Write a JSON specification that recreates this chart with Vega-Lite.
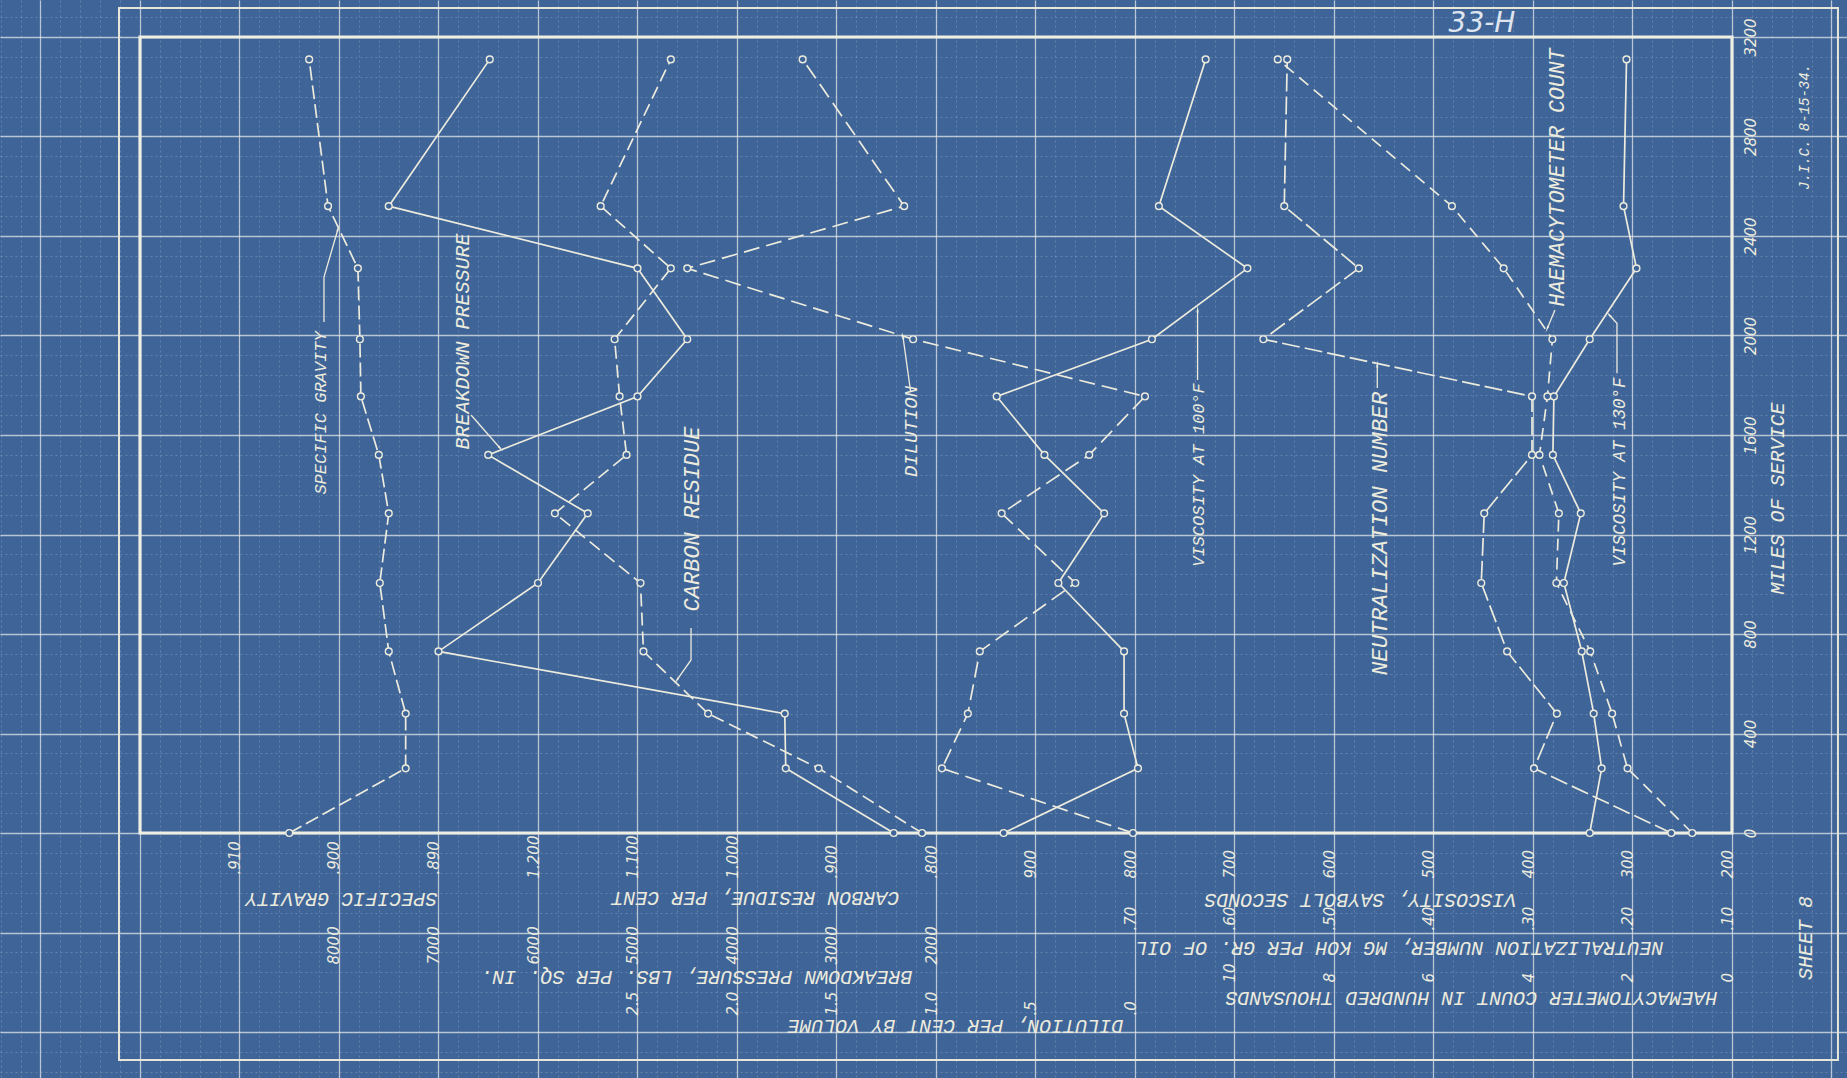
{
  "$schema": "https://vega.github.io/schema/vega-lite/v6.json",
  "width": 1847,
  "height": 1078,
  "autosize": {"type": "none"},
  "padding": 0,
  "background": "#3e6498",
  "config": {"view": {"stroke": null}},
  "datasets": {
    "oil": [
      {"miles": 0, "sg": 0.9050, "bp": 2425, "cr": 0.814, "dil": 0.01, "v100": 932, "neut": 0.161, "haem": 0.80, "v130": 343},
      {"miles": 260, "sg": 0.8933, "bp": 3510, "cr": 0.918, "dil": 0.97, "v100": 797, "neut": 0.299, "haem": 2.10, "v130": 331},
      {"miles": 480, "sg": 0.8933, "bp": 3520, "cr": 1.029, "dil": 0.84, "v100": 811, "neut": 0.276, "haem": 2.41, "v130": 339},
      {"miles": 730, "sg": 0.8950, "bp": 7000, "cr": 1.094, "dil": 0.78, "v100": 811, "neut": 0.326, "haem": 2.85, "v130": 351},
      {"miles": 1005, "sg": 0.8959, "bp": 6000, "cr": 1.097, "dil": 0.30, "v100": 877, "neut": 0.352, "haem": 3.53, "v130": 369},
      {"miles": 1285, "sg": 0.8950, "bp": 5500, "cr": 1.183, "dil": 0.67, "v100": 831, "neut": 0.349, "haem": 3.48, "v130": 352},
      {"miles": 1520, "sg": 0.8960, "bp": 6500, "cr": 1.111, "dil": 0.23, "v100": 891, "neut": 0.301, "haem": 3.87, "v130": 380},
      {"miles": 1755, "sg": 0.8978, "bp": 5000, "cr": 1.118, "dil": -0.05, "v100": 939, "neut": 0.301, "haem": 3.71, "v130": 379},
      {"miles": 1985, "sg": 0.8979, "bp": 4500, "cr": 1.123, "dil": 1.115, "v100": 783, "neut": 0.571, "haem": 3.61, "v130": 343},
      {"miles": 2270, "sg": 0.8981, "bp": 5000, "cr": 1.0665, "dil": 2.25, "v100": 687, "neut": 0.475, "haem": 4.59, "v130": 296},
      {"miles": 2520, "sg": 0.9011, "bp": 7500, "cr": 1.137, "dil": 1.16, "v100": 776, "neut": 0.550, "haem": 5.63, "v130": 309},
      {"miles": 3110, "sg": 0.9030, "bp": 6485, "cr": 1.0665, "dil": 1.67, "v100": 729, "neut": 0.547, "haem": 9.13, "v130": 306}
    ],
    "leaders": [
      {"g": "sg", "i": 0, "d": 14.151, "m": 2054.3},
      {"g": "sg", "i": 1, "d": 14.151, "m": 2235.2},
      {"g": "sg", "i": 2, "d": 14.010, "m": 2428.1},
      {"g": "bp", "i": 0, "d": 12.673, "m": 1680.4},
      {"g": "bp", "i": 1, "d": 12.382, "m": 1547.7},
      {"g": "cr", "i": 0, "d": 10.462, "m": 824.1},
      {"g": "cr", "i": 1, "d": 10.462, "m": 695.5},
      {"g": "cr", "i": 2, "d": 10.603, "m": 615.1},
      {"g": "dil", "i": 0, "d": 8.255, "m": 1774.1},
      {"g": "dil", "i": 1, "d": 8.332, "m": 1995.2},
      {"g": "v100", "i": 0, "d": 5.371, "m": 1821.1},
      {"g": "v100", "i": 1, "d": 5.371, "m": 2102.5},
      {"g": "neut", "i": 0, "d": 3.565, "m": 1788.9},
      {"g": "neut", "i": 1, "d": 3.565, "m": 1881.4},
      {"g": "haem", "i": 0, "d": 1.779, "m": 2102.5},
      {"g": "haem", "i": 1, "d": 1.856, "m": 2028.9},
      {"g": "v130", "i": 0, "d": 1.156, "m": 1848.2},
      {"g": "v130", "i": 1, "d": 1.156, "m": 2049.2},
      {"g": "v130", "i": 2, "d": 1.233, "m": 2082.6}
    ],
    "arrows": [
      {"g": "sg", "d": 14.010, "m": 2428.1, "dir": 16},
      {"g": "bp", "d": 12.382, "m": 1547.7, "dir": 138},
      {"g": "cr", "d": 10.603, "m": 615.1, "dir": 215},
      {"g": "dil", "d": 8.332, "m": 1995.2, "dir": 352},
      {"g": "v100", "d": 5.371, "m": 2102.5, "dir": 0},
      {"g": "neut", "d": 3.565, "m": 1881.4, "dir": 0},
      {"g": "haem", "d": 1.856, "m": 2028.9, "dir": 204},
      {"g": "v130", "d": 1.233, "m": 2082.6, "dir": 315}
    ]
  },
  "data": {"name": "oil"},
  "resolve": {"scale": {"x": "independent", "y": "independent"}, "axis": {"x": "independent", "y": "independent"}},
  "layer": [
    {
      "data": {"values": [{"f0": 0, "f1": 80, "q0": 0, "q1": 40}]},
      "mark": {"type": "rect", "opacity": 0},
      "encoding": {
        "x": {"field": "f0", "type": "quantitative", "scale": {"domain": [-5.778895, 87.035175], "reverse": true, "nice": false, "zero": false},
          "axis": {"grid": true, "tickCount": 93, "labels": false, "ticks": false, "domain": false, "title": null, "gridColor": "#e6eaf0", "gridOpacity": 0.22, "gridDash": [2, 3], "gridWidth": 1, "zindex": 0}},
        "x2": {"field": "f1"},
        "y": {"field": "q0", "type": "quantitative", "scale": {"domain": [-12.3115, 41.85925], "nice": false, "zero": false},
          "axis": {"grid": true, "tickCount": 54, "labels": false, "ticks": false, "domain": false, "title": null, "gridColor": "#e6eaf0", "gridOpacity": 0.22, "gridDash": [2, 3], "gridWidth": 1, "zindex": 0}},
        "y2": {"field": "q1"}
      }
    },
    {
      "encoding": {
        "x": {"field": "x0", "type": "quantitative", "scale": {"domain": [-1.155779, 17.407035], "reverse": true, "nice": false, "zero": false},
          "axis": {"grid": true, "values": [-1, 0, 1, 2, 3, 4, 5, 6, 7, 8, 9, 10, 11, 12, 13, 14, 15, 16, 17], "labels": false, "ticks": false, "domain": false, "title": null, "gridColor": "#e3e6e8", "gridOpacity": 0.72, "gridWidth": 1.3, "zindex": 0}},
        "x2": {"field": "x1"},
        "y": {"field": "y0", "type": "quantitative", "scale": {"domain": [-984.92, 3348.74], "nice": false, "zero": false},
          "axis": {"orient": "right", "offset": -92, "grid": true, "values": [-800, -400, 0, 400, 800, 1200, 1600, 2000, 2400, 2800, 3200],
            "labelExpr": "datum.value >= 0 ? datum.label : ''", "format": "d",
            "gridColor": "#e3e6e8", "gridOpacity": 0.72, "gridWidth": 1.3, "zindex": 0,
            "ticks": false, "tickSize": 0, "domain": false, "labelAngle": 270, "labelAlign": "center", "labelBaseline": "alphabetic", "labelPadding": 0,
            "labelFont": "DejaVu Sans", "labelFontSize": 15, "labelFontStyle": "italic", "labelColor": "#ecebdd", "labelOverlap": false, "labelFlush": false, "labelBound": false,
            "title": "MILES OF SERVICE", "titleAngle": 270, "titleX": 22, "titleY": 498, "titleAlign": "center", "titleBaseline": "middle",
            "titleFont": "Liberation Mono", "titleFontSize": 20, "titleFontStyle": "italic", "titleFontWeight": "normal", "titleColor": "#ecebdd"}},
        "y2": {"field": "y1"}
      },
      "layer": [
        {"data": {"values": [{"x0": 0, "x1": 16, "y0": 0, "y1": 3200}]}, "mark": {"type": "rect", "fillOpacity": 0, "stroke": "#efeee2", "strokeWidth": 3.2}},
        {"data": {"values": [{"x0": -1.065, "x1": 16.211, "y0": -912.6, "y1": 3316.6}]}, "mark": {"type": "rect", "fillOpacity": 0, "stroke": "#e6e6da", "strokeWidth": 2}}
      ]
    },
    {
      "encoding": {
        "x": {"field": "sg", "type": "quantitative", "scale": {"domain": [0.74844221, 0.93407035], "reverse": true, "nice": false, "zero": false},
          "axis": {"orient": "bottom", "offset": -204, "values": [0.89, 0.9, 0.91], "labelExpr": "slice(format(datum.value, '.3f'), 1)",
            "grid": false, "domain": false, "ticks": false, "tickSize": 0, "labelAngle": 270, "labelAlign": "left", "labelBaseline": "alphabetic", "labelPadding": 0,
            "labelFont": "DejaVu Sans", "labelFontSize": 15, "labelFontStyle": "italic", "labelColor": "#ecebdd", "labelOverlap": false, "labelFlush": false, "labelBound": false,
            "title": "SPECIFIC GRAVITY", "titleAngle": 180, "titleX": 341, "titleY": 24, "titleAlign": "center", "titleBaseline": "middle",
            "titleFont": "Liberation Mono", "titleFontSize": 20, "titleFontStyle": "italic", "titleFontWeight": "normal", "titleColor": "#ecebdd"}},
        "y": {"field": "miles", "type": "quantitative", "scale": {"domain": [-984.92, 3348.74], "nice": false, "zero": false}, "axis": null},
        "order": {"field": "miles"}
      },
      "layer": [
        {"mark": {"type": "line", "color": "#ecebdd", "strokeWidth": 1.7, "strokeDash": [14, 5]}},
        {"mark": {"type": "point", "shape": "circle", "filled": true, "fill": "#3e6498", "stroke": "#ecebdd", "strokeWidth": 1.4, "size": 46, "opacity": 1}}
      ]
    },
    {
      "encoding": {
        "x": {"field": "bp", "type": "quantitative", "scale": {"domain": [-7155.779, 11407.035], "reverse": true, "nice": false, "zero": false},
          "axis": {"orient": "bottom", "offset": -114, "values": [2000, 3000, 4000, 5000, 6000, 7000, 8000], "format": "d",
            "grid": false, "domain": false, "ticks": false, "tickSize": 0, "labelAngle": 270, "labelAlign": "left", "labelBaseline": "alphabetic", "labelPadding": 0,
            "labelFont": "DejaVu Sans", "labelFontSize": 15, "labelFontStyle": "italic", "labelColor": "#ecebdd", "labelOverlap": false, "labelFlush": false, "labelBound": false,
            "title": "BREAKDOWN PRESSURE, LBS. PER SQ. IN.", "titleAngle": 180, "titleX": 696, "titleY": 12, "titleAlign": "center", "titleBaseline": "middle",
            "titleFont": "Liberation Mono", "titleFontSize": 20, "titleFontStyle": "italic", "titleFontWeight": "normal", "titleColor": "#ecebdd"}},
        "y": {"field": "miles", "type": "quantitative", "scale": {"domain": [-984.92, 3348.74], "nice": false, "zero": false}, "axis": null},
        "order": {"field": "miles"}
      },
      "layer": [
        {"mark": {"type": "line", "color": "#ecebdd", "strokeWidth": 1.7}},
        {"mark": {"type": "point", "shape": "circle", "filled": true, "fill": "#3e6498", "stroke": "#ecebdd", "strokeWidth": 1.4, "size": 46, "opacity": 1}}
      ]
    },
    {
      "encoding": {
        "x": {"field": "cr", "type": "quantitative", "scale": {"domain": [-0.1155779, 1.7407035], "reverse": true, "nice": false, "zero": false},
          "axis": {"orient": "bottom", "offset": -200, "values": [0.8, 0.9, 1.0, 1.1, 1.2], "labelExpr": "datum.value < 1 ? slice(format(datum.value, '.3f'), 1) : format(datum.value, '.3f')",
            "grid": false, "domain": false, "ticks": false, "tickSize": 0, "labelAngle": 270, "labelAlign": "left", "labelBaseline": "alphabetic", "labelPadding": 0,
            "labelFont": "DejaVu Sans", "labelFontSize": 15, "labelFontStyle": "italic", "labelColor": "#ecebdd", "labelOverlap": false, "labelFlush": false, "labelBound": false,
            "title": "CARBON RESIDUE, PER CENT", "titleAngle": 180, "titleX": 755, "titleY": 19, "titleAlign": "center", "titleBaseline": "middle",
            "titleFont": "Liberation Mono", "titleFontSize": 20, "titleFontStyle": "italic", "titleFontWeight": "normal", "titleColor": "#ecebdd"}},
        "y": {"field": "miles", "type": "quantitative", "scale": {"domain": [-984.92, 3348.74], "nice": false, "zero": false}, "axis": null},
        "order": {"field": "miles"}
      },
      "layer": [
        {"mark": {"type": "line", "color": "#ecebdd", "strokeWidth": 1.7, "strokeDash": [13, 6]}},
        {"mark": {"type": "point", "shape": "circle", "filled": true, "fill": "#3e6498", "stroke": "#ecebdd", "strokeWidth": 1.4, "size": 46, "opacity": 1}}
      ]
    },
    {
      "encoding": {
        "x": {"field": "dil", "type": "quantitative", "scale": {"domain": [-3.5778895, 5.7035175], "reverse": true, "nice": false, "zero": false},
          "axis": {"orient": "bottom", "offset": -63, "values": [0, 0.5, 1, 1.5, 2, 2.5], "labelExpr": "datum.value < 1 ? slice(format(datum.value, '.1f'), 1) : format(datum.value, '.1f')",
            "grid": false, "domain": false, "ticks": false, "tickSize": 0, "labelAngle": 270, "labelAlign": "left", "labelBaseline": "alphabetic", "labelPadding": 0,
            "labelFont": "DejaVu Sans", "labelFontSize": 15, "labelFontStyle": "italic", "labelColor": "#ecebdd", "labelOverlap": false, "labelFlush": false, "labelBound": false,
            "title": "DILUTION, PER CENT BY VOLUME", "titleAngle": 180, "titleX": 955, "titleY": 10, "titleAlign": "center", "titleBaseline": "middle",
            "titleFont": "Liberation Mono", "titleFontSize": 20, "titleFontStyle": "italic", "titleFontWeight": "normal", "titleColor": "#ecebdd"}},
        "y": {"field": "miles", "type": "quantitative", "scale": {"domain": [-984.92, 3348.74], "nice": false, "zero": false}, "axis": null},
        "order": {"field": "miles"}
      },
      "layer": [
        {"mark": {"type": "line", "color": "#ecebdd", "strokeWidth": 1.7, "strokeDash": [16, 7]}},
        {"mark": {"type": "point", "shape": "circle", "filled": true, "fill": "#3e6498", "stroke": "#ecebdd", "strokeWidth": 1.4, "size": 46, "opacity": 1}}
      ]
    },
    {
      "encoding": {
        "x": {"field": "v100", "type": "quantitative", "scale": {"domain": [84.4221, 1940.7035], "reverse": true, "nice": false, "zero": false},
          "axis": {"orient": "bottom", "offset": -200, "values": [200, 300, 400, 500, 600, 700, 800, 900], "format": "d",
            "grid": false, "domain": false, "ticks": false, "tickSize": 0, "labelAngle": 270, "labelAlign": "left", "labelBaseline": "alphabetic", "labelPadding": 0,
            "labelFont": "DejaVu Sans", "labelFontSize": 15, "labelFontStyle": "italic", "labelColor": "#ecebdd", "labelOverlap": false, "labelFlush": false, "labelBound": false,
            "title": "VISCOSITY, SAYBOLT SECONDS", "titleAngle": 180, "titleX": 1360, "titleY": 21, "titleAlign": "center", "titleBaseline": "middle",
            "titleFont": "Liberation Mono", "titleFontSize": 20, "titleFontStyle": "italic", "titleFontWeight": "normal", "titleColor": "#ecebdd"}},
        "y": {"field": "miles", "type": "quantitative", "scale": {"domain": [-984.92, 3348.74], "nice": false, "zero": false}, "axis": null},
        "order": {"field": "miles"}
      },
      "layer": [
        {"mark": {"type": "line", "color": "#ecebdd", "strokeWidth": 1.7}},
        {"mark": {"type": "point", "shape": "circle", "filled": true, "fill": "#3e6498", "stroke": "#ecebdd", "strokeWidth": 1.4, "size": 46, "opacity": 1}}
      ]
    },
    {
      "encoding": {
        "x": {"field": "neut", "type": "quantitative", "scale": {"domain": [-0.0155779, 1.8407035], "reverse": true, "nice": false, "zero": false},
          "axis": {"orient": "bottom", "offset": -148, "values": [0.1, 0.2, 0.3, 0.4, 0.5, 0.6, 0.7], "labelExpr": "slice(format(datum.value, '.2f'), 1)",
            "grid": false, "domain": false, "ticks": false, "tickSize": 0, "labelAngle": 270, "labelAlign": "left", "labelBaseline": "alphabetic", "labelPadding": 0,
            "labelFont": "DejaVu Sans", "labelFontSize": 15, "labelFontStyle": "italic", "labelColor": "#ecebdd", "labelOverlap": false, "labelFlush": false, "labelBound": false,
            "title": "NEUTRALIZATION NUMBER, MG KOH PER GR. OF OIL", "titleAngle": 180, "titleX": 1399, "titleY": 17, "titleAlign": "center", "titleBaseline": "middle",
            "titleFont": "Liberation Mono", "titleFontSize": 20, "titleFontStyle": "italic", "titleFontWeight": "normal", "titleColor": "#ecebdd"}},
        "y": {"field": "miles", "type": "quantitative", "scale": {"domain": [-984.92, 3348.74], "nice": false, "zero": false}, "axis": null},
        "order": {"field": "miles"}
      },
      "layer": [
        {"mark": {"type": "line", "color": "#ecebdd", "strokeWidth": 1.7, "strokeDash": [18, 5]}},
        {"mark": {"type": "point", "shape": "circle", "filled": true, "fill": "#3e6498", "stroke": "#ecebdd", "strokeWidth": 1.4, "size": 46, "opacity": 1}}
      ]
    },
    {
      "encoding": {
        "x": {"field": "haem", "type": "quantitative", "scale": {"domain": [-2.311558, 34.81407], "reverse": true, "nice": false, "zero": false},
          "axis": {"orient": "bottom", "offset": -96, "values": [0, 2, 4, 6, 8, 10], "format": "d",
            "grid": false, "domain": false, "ticks": false, "tickSize": 0, "labelAngle": 270, "labelAlign": "left", "labelBaseline": "alphabetic", "labelPadding": 0,
            "labelFont": "DejaVu Sans", "labelFontSize": 15, "labelFontStyle": "italic", "labelColor": "#ecebdd", "labelOverlap": false, "labelFlush": false, "labelBound": false,
            "title": "HAEMACYTOMETER COUNT IN HUNDRED THOUSANDS", "titleAngle": 180, "titleX": 1471, "titleY": 15, "titleAlign": "center", "titleBaseline": "middle",
            "titleFont": "Liberation Mono", "titleFontSize": 20, "titleFontStyle": "italic", "titleFontWeight": "normal", "titleColor": "#ecebdd"}},
        "y": {"field": "miles", "type": "quantitative", "scale": {"domain": [-984.92, 3348.74], "nice": false, "zero": false}, "axis": null},
        "order": {"field": "miles"}
      },
      "layer": [
        {"mark": {"type": "line", "color": "#ecebdd", "strokeWidth": 1.7, "strokeDash": [12, 7]}},
        {"mark": {"type": "point", "shape": "circle", "filled": true, "fill": "#3e6498", "stroke": "#ecebdd", "strokeWidth": 1.4, "size": 46, "opacity": 1}}
      ]
    },
    {
      "encoding": {
        "x": {"field": "v130", "type": "quantitative", "scale": {"domain": [84.4221, 1940.7035], "reverse": true, "nice": false, "zero": false}, "axis": null},
        "y": {"field": "miles", "type": "quantitative", "scale": {"domain": [-984.92, 3348.74], "nice": false, "zero": false}, "axis": null},
        "order": {"field": "miles"}
      },
      "layer": [
        {"mark": {"type": "line", "color": "#ecebdd", "strokeWidth": 1.7}},
        {"mark": {"type": "point", "shape": "circle", "filled": true, "fill": "#3e6498", "stroke": "#ecebdd", "strokeWidth": 1.4, "size": 46, "opacity": 1}}
      ]
    },
    {
      "layer": [
        {
          "data": {"name": "leaders"},
          "mark": {"type": "line", "color": "#ecebdd", "strokeWidth": 1.3},
          "encoding": {
            "x": {"field": "d", "type": "quantitative", "scale": {"domain": [-1.155779, 17.407035], "reverse": true, "nice": false, "zero": false}, "axis": null},
            "y": {"field": "m", "type": "quantitative", "scale": {"domain": [-984.92, 3348.74], "nice": false, "zero": false}, "axis": null},
            "detail": {"field": "g"},
            "order": {"field": "i"}
          }
        },
        {
          "data": {"name": "arrows"},
          "mark": {"type": "point", "shape": "wedge", "filled": true, "color": "#ecebdd", "size": 70, "opacity": 1},
          "encoding": {
            "x": {"field": "d", "type": "quantitative", "scale": {"domain": [-1.155779, 17.407035], "reverse": true, "nice": false, "zero": false}, "axis": null},
            "y": {"field": "m", "type": "quantitative", "scale": {"domain": [-984.92, 3348.74], "nice": false, "zero": false}, "axis": null},
            "angle": {"field": "dir", "type": "quantitative", "scale": {"domain": [0, 360], "range": [0, 360]}, "legend": null}
          }
        },
        {"data": {"values": [{}]}, "mark": {"type": "text", "text": "SPECIFIC GRAVITY", "angle": 270, "align": "center", "baseline": "middle", "font": "Liberation Mono", "fontStyle": "italic", "fontSize": 17, "color": "#ecebdd"},
          "encoding": {"x": {"datum": 14.181, "type": "quantitative", "scale": {"domain": [-1.155779, 17.407035], "reverse": true, "nice": false, "zero": false}, "axis": null}, "y": {"datum": 1688.4, "type": "quantitative", "scale": {"domain": [-984.92, 3348.74], "nice": false, "zero": false}, "axis": null}}},
        {"data": {"values": [{}]}, "mark": {"type": "text", "text": "BREAKDOWN PRESSURE", "angle": 270, "align": "center", "baseline": "middle", "font": "Liberation Mono", "fontStyle": "italic", "fontSize": 20, "color": "#ecebdd"},
          "encoding": {"x": {"datum": 12.754, "type": "quantitative"}, "y": {"datum": 1975.9, "type": "quantitative"}}},
        {"data": {"values": [{}]}, "mark": {"type": "text", "text": "CARBON RESIDUE", "angle": 270, "align": "center", "baseline": "middle", "font": "Liberation Mono", "fontStyle": "italic", "fontSize": 22, "color": "#ecebdd"},
          "encoding": {"x": {"datum": 10.452, "type": "quantitative"}, "y": {"datum": 1262.3, "type": "quantitative"}}},
        {"data": {"values": [{}]}, "mark": {"type": "text", "text": "DILUTION", "angle": 270, "align": "center", "baseline": "middle", "font": "Liberation Mono", "fontStyle": "italic", "fontSize": 19, "color": "#ecebdd"},
          "encoding": {"x": {"datum": 8.251, "type": "quantitative"}, "y": {"datum": 1614.1, "type": "quantitative"}}},
        {"data": {"values": [{}]}, "mark": {"type": "text", "text": "VISCOSITY AT 100°F", "angle": 270, "align": "center", "baseline": "middle", "font": "Liberation Mono", "fontStyle": "italic", "fontSize": 17, "color": "#ecebdd"},
          "encoding": {"x": {"datum": 5.357, "type": "quantitative"}, "y": {"datum": 1439.2, "type": "quantitative"}}},
        {"data": {"values": [{}]}, "mark": {"type": "text", "text": "NEUTRALIZATION NUMBER", "angle": 270, "align": "center", "baseline": "middle", "font": "Liberation Mono", "fontStyle": "italic", "fontSize": 22.5, "color": "#ecebdd"},
          "encoding": {"x": {"datum": 3.538, "type": "quantitative"}, "y": {"datum": 1204.0, "type": "quantitative"}}},
        {"data": {"values": [{}]}, "mark": {"type": "text", "text": "HAEMACYTOMETER COUNT", "angle": 270, "align": "center", "baseline": "middle", "font": "Liberation Mono", "fontStyle": "italic", "fontSize": 21.5, "color": "#ecebdd"},
          "encoding": {"x": {"datum": 1.749, "type": "quantitative"}, "y": {"datum": 2635.2, "type": "quantitative"}}},
        {"data": {"values": [{}]}, "mark": {"type": "text", "text": "VISCOSITY AT 130°F", "angle": 270, "align": "center", "baseline": "middle", "font": "Liberation Mono", "fontStyle": "italic", "fontSize": 17.5, "color": "#ecebdd"},
          "encoding": {"x": {"datum": 1.126, "type": "quantitative"}, "y": {"datum": 1451.3, "type": "quantitative"}}},
        {"data": {"values": [{}]}, "mark": {"type": "text", "text": "J.I.C. 8-15-34.", "angle": 270, "align": "center", "baseline": "middle", "font": "Liberation Mono", "fontStyle": "italic", "fontSize": 14, "color": "#ecebdd"},
          "encoding": {"x": {"datum": -0.734, "type": "quantitative"}, "y": {"datum": 2838.2, "type": "quantitative"}}},
        {"data": {"values": [{}]}, "mark": {"type": "text", "text": "SHEET 8", "angle": 270, "align": "center", "baseline": "middle", "font": "Liberation Mono", "fontStyle": "italic", "fontSize": 20, "color": "#ecebdd"},
          "encoding": {"x": {"datum": -0.744, "type": "quantitative"}, "y": {"datum": -422.1, "type": "quantitative"}}},
        {"data": {"values": [{}]}, "mark": {"type": "text", "text": "33-H", "align": "center", "baseline": "middle", "font": "DejaVu Sans", "fontStyle": "italic", "fontSize": 28, "color": "#dfe5ef"},
          "encoding": {"x": {"datum": 2.513, "type": "quantitative"}, "y": {"datum": 3252.3, "type": "quantitative"}}}
      ]
    }
  ]
}
